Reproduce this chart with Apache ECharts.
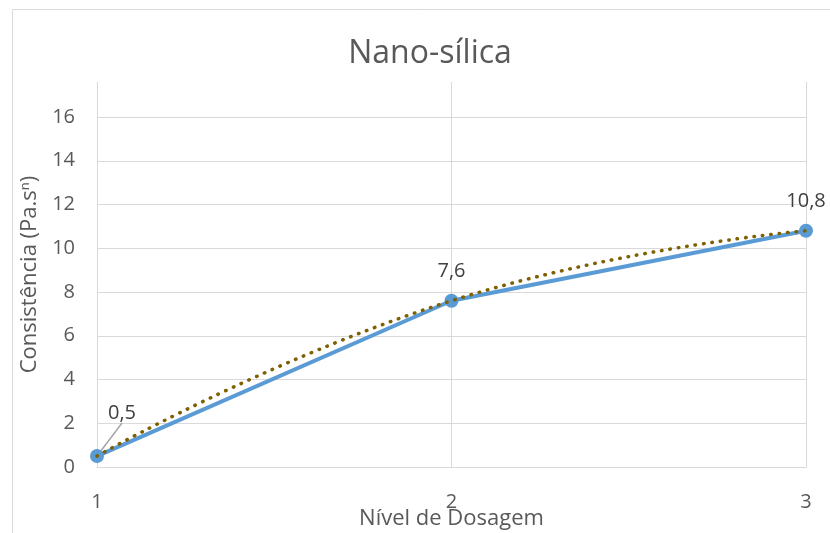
<!DOCTYPE html>
<html>
<head>
    <meta charset="utf-8">
    <title>Nano-sílica</title>
    <script src="https://cdn.jsdelivr.net/npm/echarts@6/dist/echarts.min.js"></script>
    <style>
        html, body { margin: 0; padding: 0; background: #fff; }
    </style>
</head>
<body>
    <div id="main" style="width: 830px;height:533px;"></div>
    <script type="text/javascript">
    // dados
    var niveis = [1, 2, 3];
    var consistencia = [0.5, 7.6, 10.8];
    var yTicks = [0, 2, 4, 6, 8, 10, 12, 14, 16];

    var fonte = '"Open Sans", sans-serif';
    var pontos = [];
    for (var i = 0; i < niveis.length; i++) {
        var item = { value: [niveis[i], consistencia[i]] };
        // só o primeiro rótulo tem linha de chamada
        if (i === 0) {
            item.labelLine = { show: true };
        }
        pontos.push(item);
    }
    var tendencia = [];
    for (var j = 0; j < niveis.length; j++) {
        tendencia.push([niveis[j], consistencia[j]]);
    }

    var myChart = echarts.init(document.getElementById('main'));
    myChart.setOption({
        animation: false,
        backgroundColor: '#fff',
        textStyle: { fontFamily: fonte },
        title: {
            text: 'Nano-sílica',
            left: 425,
            top: 33,
            textAlign: 'center',
            textStyle: {
                fontFamily: fonte,
                fontSize: 32,
                fontWeight: 'normal',
                color: '#595959'
            }
        },
        graphic: [{
            type: 'rect',
            left: 10,
            top: 7,
            shape: { width: 840, height: 560 },
            style: { fill: 'none', stroke: '#d9d9d9', lineWidth: 1 },
            silent: true
        }],
        grid: {
            left: 97,
            right: 24,
            top: 82,
            bottom: 66,
            outerBoundsMode: 'none'
        },
        xAxis: {
            type: 'value',
            min: 1,
            max: 3,
            interval: 1,
            name: 'Nível de Dosagem',
            nameLocation: 'middle',
            nameGap: 41,
            nameMoveOverlap: false,
            nameTextStyle: { fontFamily: fonte, fontSize: 22, color: '#595959' },
            axisLine: { show: true, lineStyle: { color: '#d9d9d9', width: 1 } },
            axisTick: { show: false },
            axisLabel: { fontFamily: fonte, fontSize: 20, color: '#595959', margin: 25 },
            splitLine: { show: true, lineStyle: { color: '#d9d9d9', width: 1 } }
        },
        yAxis: {
            type: 'value',
            min: yTicks[0],
            max: 17.6,
            interval: 2,
            name: '{a|Consistência (Pa.s}{b|n}{a|)}',
            nameLocation: 'middle',
            nameGap: 52,
            nameRotate: 90,
            nameTextStyle: {
                rich: {
                    a: { fontFamily: fonte, fontSize: 22, color: '#595959' },
                    b: { fontFamily: fonte, fontSize: 13, color: '#595959', verticalAlign: 'top', padding: [0, 0, 10, 0] }
                }
            },
            axisLine: { show: false },
            axisTick: { show: false },
            axisLabel: { fontFamily: fonte, fontSize: 20, color: '#595959', margin: 22, showMaxLabel: false },
            splitLine: { show: true, showMaxLine: false, lineStyle: { color: '#d9d9d9', width: 1 } }
        },
        series: [{
            name: 'Consistência',
            type: 'line',
            data: pontos,
            symbol: 'circle',
            symbolSize: 14,
            itemStyle: { color: '#5b9bd5' },
            lineStyle: { color: '#5b9bd5', width: 4 },
            label: {
                show: true,
                position: 'top',
                distance: 12,
                fontFamily: fonte,
                fontSize: 20,
                color: '#404040',
                formatter: function (p) {
                    return String(p.value[1]).replace('.', ',');
                }
            },
            labelLine: {
                show: false,
                lineStyle: { color: '#a6a6a6', width: 1.5 }
            },
            labelLayout: function (p) {
                if (p.dataIndex === 0) {
                    return { dx: 25, dy: -14 };
                }
                return {};
            },
            z: 2
        }, {
            name: 'Tendência',
            type: 'line',
            data: tendencia,
            smooth: true,
            symbol: 'none',
            lineStyle: {
                color: '#7f6000',
                width: 3.5,
                type: [0.5, 8],
                cap: 'round'
            },
            z: 3
        }]
    });
    </script>
</body>
</html>
